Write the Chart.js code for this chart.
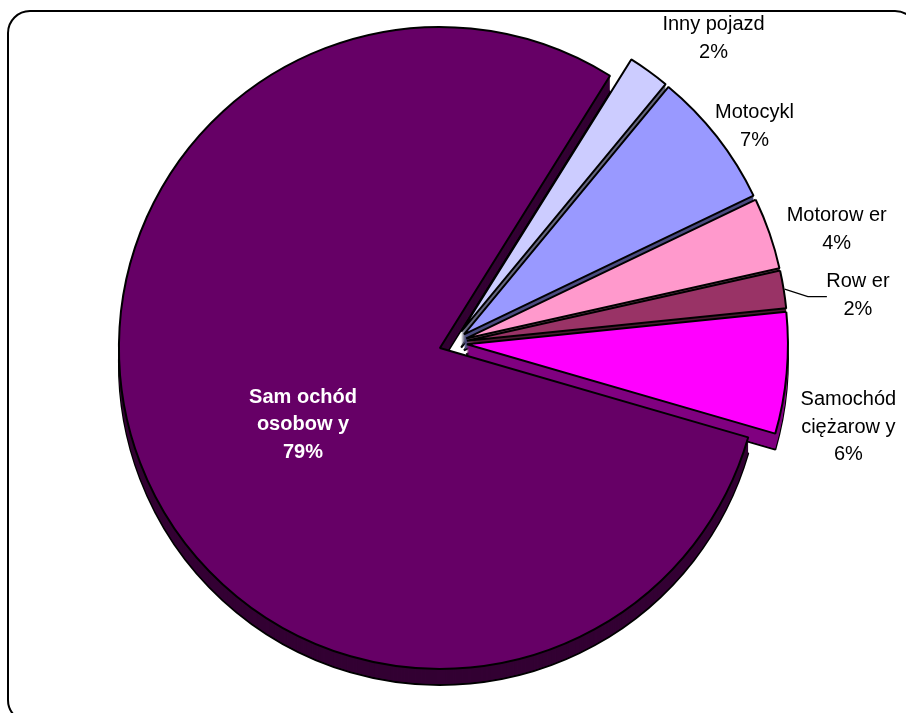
<!DOCTYPE html>
<html>
<head>
<meta charset="utf-8">
<title>Pojazdy</title>
<script src="https://cdn.jsdelivr.net/npm/chart.js@4.4.1/dist/chart.umd.min.js"></script>
<style>
  html, body { margin: 0; padding: 0; background: #fff; overflow: hidden; }
  #wrap { position: relative; width: 906px; height: 713px; }
</style>
</head>
<body>
<div id="wrap"><canvas id="pieChart" width="906" height="713"></canvas></div>
<script>
/* data (percent of all vehicles) */
const categories = ['Inny pojazd', 'Motocykl', 'Motorow er', 'Row er', 'Samochód\nciężarow y', 'Sam ochód\nosobow y'];
const shares = [2.1, 6.9, 3.6, 1.9, 6.1, 79.4];

/* styling */
const faceColors = ['#ccccff', '#9999ff', '#ff99cc', '#993366', '#ff00ff', '#660066'];
const wallColors = ['#66667f', '#4c4c80', '#804c66', '#4c1933', '#800080', '#330033'];
const labelNudge = [[29, 16.5], [-10.5, 27.5], [9.5, 16], [14, 16], [1, 48.5], [13, 19.5]];
const leaderLine = [false, false, false, true, false, false];

const EXPLODE = 14;   // slice pull-out, px
const DEPTH = 16;     // height of the 3d wall, px
const RADIUS = 321;
const FONT = "'Liberation Sans', Arial, sans-serif";

function pct(v) {
  const total = shares.reduce((a, b) => a + b, 0);
  return Math.round(v / total * 100) + '%';
}

function pullOut(arc) {
  const mid = (arc.startAngle + arc.endAngle) / 2;
  return [Math.cos(mid) * EXPLODE, Math.sin(mid) * EXPLODE, mid];
}

const frame = {
  id: 'frame',
  beforeDraw(chart) {
    const ctx = chart.ctx;
    ctx.save();
    ctx.fillStyle = '#fff';
    ctx.fillRect(0, 0, chart.width, chart.height);
    ctx.beginPath();
    ctx.roundRect(8, 11, 909, 711, 22);
    ctx.lineWidth = 2;
    ctx.strokeStyle = '#000';
    ctx.stroke();
    ctx.restore();
  }
};

const pie3d = {
  id: 'pie3d',
  beforeDatasetDraw(chart, args) {
    const ctx = chart.ctx;
    const arcs = args.meta.data;
    // side walls, stacked from the bottom up
    for (let d = DEPTH; d >= 1; d--) {
      arcs.forEach((arc, i) => {
        const [sx, sy] = pullOut(arc);
        const wall = Object.create(arc);
        wall.options = Object.assign({}, arc.options, {
          backgroundColor: wallColors[i],
          borderColor: '#000',
          borderWidth: d === DEPTH ? 2 : 0
        });
        ctx.save();
        ctx.translate(sx, sy + d);
        wall.draw(ctx);
        ctx.restore();
      });
    }
    // top faces
    arcs.forEach(arc => {
      const [sx, sy] = pullOut(arc);
      ctx.save();
      ctx.translate(sx, sy);
      arc.draw(ctx);
      ctx.restore();
    });
    return false;
  },
  afterDatasetsDraw(chart) {
    const ctx = chart.ctx;
    const arcs = chart.getDatasetMeta(0).data;
    ctx.save();
    ctx.textAlign = 'center';
    ctx.textBaseline = 'middle';
    arcs.forEach((arc, i) => {
      const [sx, sy, mid] = pullOut(arc);
      const ux = Math.cos(mid), uy = Math.sin(mid);
      const ax = arc.x + sx, ay = arc.y + sy;
      const inside = shares[i] > 50;
      const dist = inside ? arc.outerRadius * 0.5 : arc.outerRadius + 61;
      const cx = ax + ux * dist + labelNudge[i][0];
      const cy = ay + uy * dist + labelNudge[i][1];
      const lines = (categories[i] + '\n' + pct(shares[i])).split('\n');
      const lh = 27.5;
      ctx.font = (inside ? 'bold ' : '') + '20px ' + FONT;
      ctx.fillStyle = inside ? '#fff' : '#000';
      lines.forEach((t, k) => {
        ctx.fillText(t, cx, cy + (k - (lines.length - 1) / 2) * lh);
      });
      if (leaderLine[i]) {
        ctx.beginPath();
        ctx.moveTo(ax + ux * (arc.outerRadius + 1), ay + uy * (arc.outerRadius + 1));
        ctx.lineTo(cx - 50, cy + 1);
        ctx.lineTo(cx - 31, cy + 1);
        ctx.lineWidth = 1.2;
        ctx.strokeStyle = '#000';
        ctx.stroke();
      }
    });
    ctx.restore();
  }
};

new Chart(document.getElementById('pieChart'), {
  type: 'pie',
  data: {
    labels: categories,
    datasets: [{
      data: shares,
      backgroundColor: faceColors,
      borderColor: '#000',
      borderWidth: 2,
      offset: 0
    }]
  },
  options: {
    responsive: false,
    animation: false,
    rotation: 32,
    radius: RADIUS,
    layout: { padding: { left: 0, right: 0, top: 0, bottom: 27 } },
    plugins: {
      legend: { display: false },
      tooltip: { enabled: false }
    }
  },
  plugins: [frame, pie3d]
});
</script>
</body>
</html>
